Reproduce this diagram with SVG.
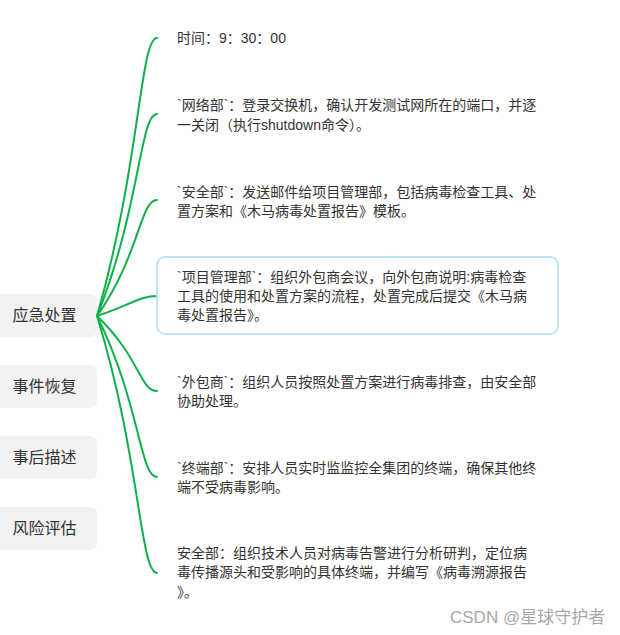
<svg xmlns="http://www.w3.org/2000/svg" width="620" height="635" viewBox="0 0 620 635">
<style>
.bg{fill:#ffffff}
.side rect{fill:#f2f2f2}
.side text{font-family:"Liberation Sans","Noto Sans CJK SC",sans-serif;font-size:16px;fill:#333333;text-anchor:middle}
.t{font-family:"Liberation Sans","Noto Sans CJK SC",sans-serif;font-size:14px;fill:#333333}
.conn path{fill:none;stroke:#0db14b;stroke-width:2;stroke-linecap:round}
.hl{fill:#ffffff;stroke:#bde3f8;stroke-width:2}
.wm{font-family:"Liberation Sans","Noto Sans CJK SC",sans-serif;font-size:17px;fill:#a8a8a8}
</style>
<rect class="bg" x="0" y="0" width="620" height="635"/>
<g id="side-nodes" class="side">
  <g id="n-yingji"><rect x="-10" y="294" width="107" height="43" rx="7"/><text x="44.5" y="321">应急处置</text></g>
  <g id="n-huifu"><rect x="-10" y="365" width="107" height="43" rx="7"/><text x="44.5" y="392">事件恢复</text></g>
  <g id="n-miaoshu"><rect x="-10" y="436" width="107" height="43" rx="7"/><text x="44.5" y="463">事后描述</text></g>
  <g id="n-pinggu"><rect x="-10" y="507" width="107" height="43" rx="7"/><text x="44.5" y="534">风险评估</text></g>
</g>
<g id="connectors" class="conn">
  <path d="M97,316 C140,166 140,38 157,38"/>
  <path d="M97,316 C140,209 140,114 157,114"/>
  <path d="M97,316 C140,255 140,200 157,200"/>
  <path d="M97,316 C130,305 140,296 157,296"/>
  <path d="M97,316 C140,357 140,391 157,391"/>
  <path d="M97,316 C140,403 140,477 157,477"/>
  <path d="M97,316 C140,455 140,573 157,573"/>
</g>
<g id="c-time"><text class="t" x="177" y="43">时间：9：30：00</text></g>
<g id="c-network"><text class="t" x="177" y="110">`网络部`：登录交换机，确认开发测试网所在的端口，并逐</text><text class="t" x="177" y="129.5">一关闭（执行shutdown命令）。</text></g>
<g id="c-security"><text class="t" x="177" y="196.5">`安全部`：发送邮件给项目管理部，包括病毒检查工具、处</text><text class="t" x="177" y="215.5">置方案和《木马病毒处置报告》模板。</text></g>
<g id="c-pm"><rect class="hl" x="157" y="257" width="401" height="77" rx="8"/><text class="t" x="177" y="281.5">`项目管理部`：组织外包商会议，向外包商说明:病毒检查</text><text class="t" x="177" y="300.5">工具的使用和处置方案的流程，处置完成后提交《木马病</text><text class="t" x="177" y="319.5">毒处置报告》。</text></g>
<g id="c-vendor"><text class="t" x="177" y="386.5">`外包商`：组织人员按照处置方案进行病毒排查，由安全部</text><text class="t" x="177" y="405.5">协助处理。</text></g>
<g id="c-terminal"><text class="t" x="177" y="473">`终端部`：安排人员实时监监控全集团的终端，确保其他终</text><text class="t" x="177" y="491.5">端不受病毒影响。</text></g>
<g id="c-security2"><text class="t" x="177" y="558">安全部：组织技术人员对病毒告警进行分析研判，定位病</text><text class="t" x="177" y="577">毒传播源头和受影响的具体终端，并编写《病毒溯源报告</text><text class="t" x="177" y="596.5">》。</text></g>
<text class="wm" x="450" y="623">CSDN @星球守护者</text>
</svg>
